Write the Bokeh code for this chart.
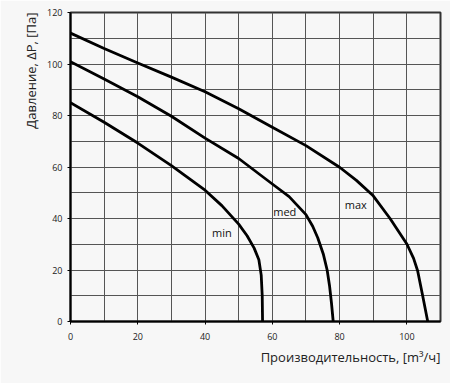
from bokeh.plotting import figure
from bokeh.models import FixedTicker, Label, Title
from bokeh.embed import file_html
from bokeh.resources import INLINE

# --- data ---
min_x = [0, 10, 20, 30, 40, 45, 50, 52.5, 54.6, 56, 56.7, 57, 57.1]
min_y = [85, 77.4, 69.3, 60.5, 51, 45, 37.8, 33.3, 28.5, 24, 18, 10, 0]

med_x = [0, 10, 20, 30, 40, 50, 60, 65, 67.5, 70, 72, 73.5, 75.2, 76.3, 77, 77.6, 78.1]
med_y = [100.9, 94.2, 87.3, 79.7, 71.2, 63.3, 53.4, 48.5, 45, 41.5, 37, 32.5, 26, 20, 14, 7, 0]

max_x = [0, 10, 20, 30, 40, 50, 60, 70, 80, 85, 90, 95, 100, 102, 103.2, 104.7, 106.2]
max_y = [112, 106, 100.4, 94.9, 89.2, 82.6, 75.4, 68.3, 59.9, 54.8, 48.8, 40, 30.1, 24.5, 19.7, 10, 0]

curve_names = ["min", "med", "max"]
label_x = [45, 63.7, 84.8]
label_y = [34.6, 42.8, 45.6]

x_ticks = [0, 20, 40, 60, 80, 100]
y_ticks = [0, 20, 40, 60, 80, 100, 120]
grid_x = list(range(0, 111, 10))
grid_y = list(range(0, 121, 10))

x_title = "Производительность, [m³/ч]"
y_title = "Давление, ΔP, [Па]"

BG = "#f7f7f7"
FONT = "Open Sans"

p = figure(width=450, height=383, x_range=(0, 110), y_range=(0, 120),
           output_backend="svg", toolbar_location=None,
           min_border_left=70, min_border_right=10, min_border_top=12, min_border_bottom=62)
p.background_fill_color = BG
p.border_fill_color = BG
p.outline_line_color = "#333333"
p.outline_line_width = 2

p.xgrid.ticker = FixedTicker(ticks=grid_x)
p.ygrid.ticker = FixedTicker(ticks=grid_y)
for g in (p.xgrid, p.ygrid):
    g.grid_line_color = "#555555"
    g.grid_line_width = 1
    g.grid_line_alpha = 1.0

p.xaxis.ticker = FixedTicker(ticks=x_ticks)
p.yaxis.ticker = FixedTicker(ticks=y_ticks)
for ax in (p.xaxis, p.yaxis):
    ax.axis_line_color = "black"
    ax.axis_line_width = 2
    ax.major_tick_line_color = "black"
    ax.major_tick_out = 3
    ax.major_tick_in = 0
    ax.minor_tick_line_color = None
    ax.major_label_text_font = FONT
    ax.major_label_text_font_size = "9px"
    ax.major_label_text_color = "#222222"
p.xaxis.major_label_standoff = 8
p.yaxis.major_label_standoff = 5

for xs, ys in ((min_x, min_y), (med_x, med_y), (max_x, max_y)):
    p.line(xs, ys, line_color="black", line_width=2.8, line_join="round")

for name, lx, ly in zip(curve_names, label_x, label_y):
    p.add_layout(Label(x=lx, y=ly, text=name, text_font=FONT, text_font_size="11px",
                       text_color="#111111", text_align="center", text_baseline="middle"))

# axis titles as side titles (right/top aligned like the reference)
p.add_layout(Title(text=x_title, align="right", text_font=FONT, text_font_size="13px",
                   text_font_style="normal", text_color="#222222", standoff=7), "below")
p.add_layout(Title(text=y_title, align="right", text_font=FONT, text_font_size="13px",
                   text_font_style="normal", text_color="#222222", standoff=10), "left")

open("out.html", "w").write(file_html(p, INLINE))
